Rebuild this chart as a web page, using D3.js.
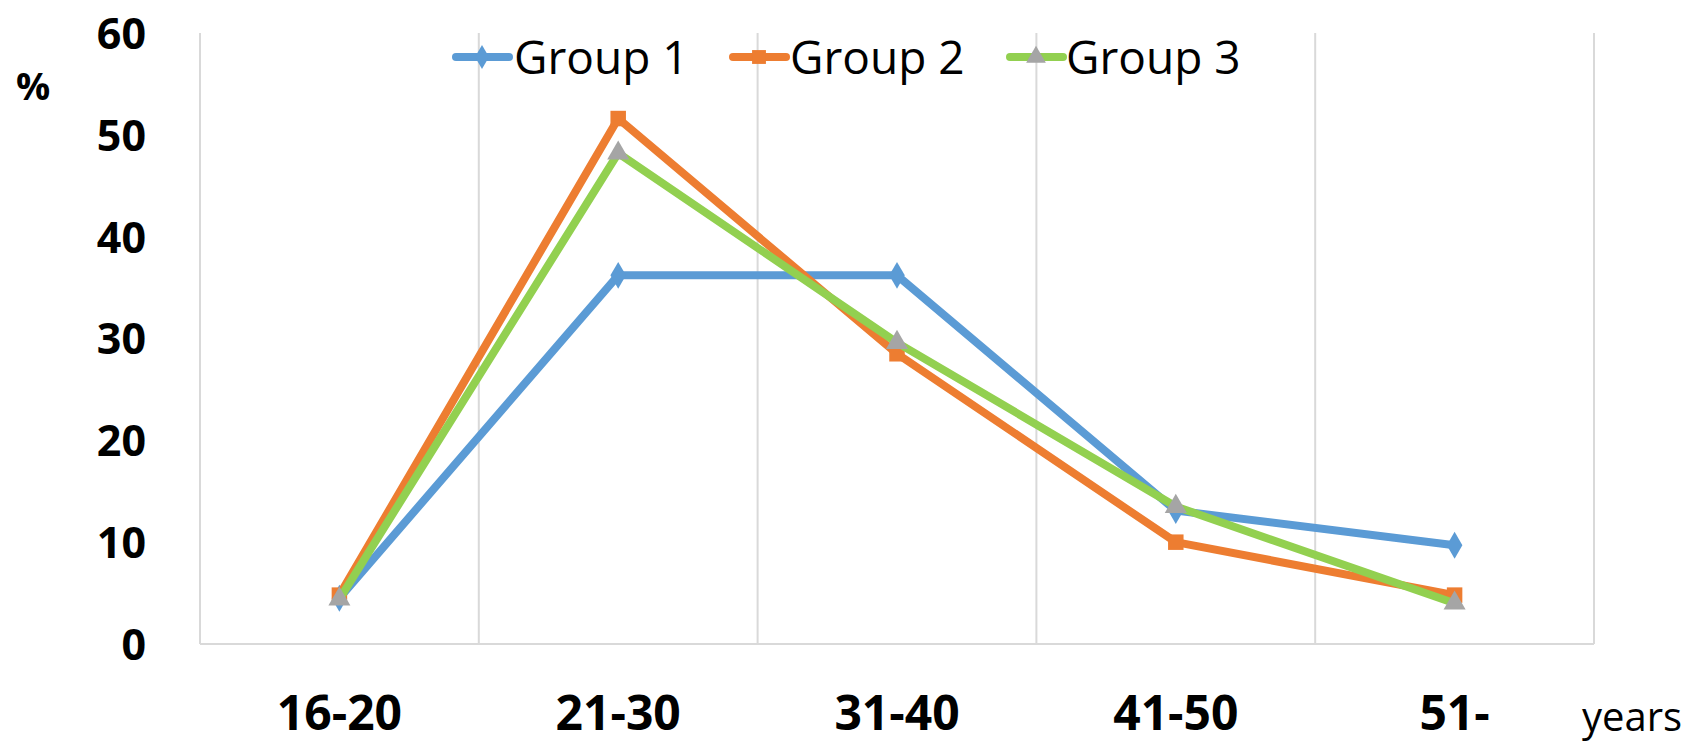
<!DOCTYPE html>
<html>
<head>
<meta charset="utf-8">
<script src="https://cdn.jsdelivr.net/npm/d3@7"></script>
<style>
  html, body { margin: 0; padding: 0; background: #ffffff; }
  svg { display: block; }
  text { font-family: "Open Sans", "Noto Sans", sans-serif; fill: #000; }
</style>
</head>
<body>
<svg id="chart" width="1688" height="744"></svg>
<script>
// Age groups on the x axis
const categories = ["16-20", "21-30", "31-40", "41-50", "51-"];

// Share of each group (%) per age band
const group1 = [4.5, 36.2, 36.2, 13.1, 9.7];
const group2 = [4.8, 51.6, 28.5, 10.0, 4.8];
const group3 = [4.4, 48.2, 29.6, 13.5, 4.0];

const seriesNames = ["Group 1", "Group 2", "Group 3"];
const yTicks = [0, 10, 20, 30, 40, 50, 60];

const series = [
  { name: seriesNames[0], values: group1, line: "#5B9BD5", marker: "#5B9BD5", shape: "diamond" },
  { name: seriesNames[1], values: group2, line: "#ED7D31", marker: "#ED7D31", shape: "square" },
  { name: seriesNames[2], values: group3, line: "#92D050", marker: "#A5A5A5", shape: "triangle" }
];

const svg = d3.select("#chart");
const plot = { left: 200, right: 1594, top: 33, bottom: 644 };

const x = d3.scaleBand().domain(categories).range([plot.left, plot.right]).padding(0);
const y = d3.scaleLinear().domain([0, 60]).range([plot.bottom, plot.top]);

// Vertical gridlines on category boundaries
const bounds = categories.map(c => x(c)).concat([x(categories[categories.length - 1]) + x.bandwidth()]);
svg.append("g").selectAll("line").data(bounds).join("line")
  .attr("x1", d => d).attr("x2", d => d)
  .attr("y1", plot.top).attr("y2", plot.bottom)
  .attr("stroke", "#D9D9D9").attr("stroke-width", 2);

// Category axis line
svg.append("line")
  .attr("x1", plot.left).attr("x2", plot.right)
  .attr("y1", plot.bottom).attr("y2", plot.bottom)
  .attr("stroke", "#D9D9D9").attr("stroke-width", 2);

// Value axis labels
const yAxis = d3.axisLeft(y).tickValues(yTicks).tickSize(0).tickPadding(0);
const yg = svg.append("g").attr("transform", "translate(146,0)").call(yAxis);
yg.select(".domain").remove();
yg.selectAll("text")
  .attr("font-family", "'Open Sans', sans-serif")
  .attr("font-size", 43).attr("font-weight", 700).attr("fill", "#000")
  .attr("dy", "0.36em");

// Category axis labels
const xAxis = d3.axisBottom(x).tickSize(0).tickPadding(0);
const xg = svg.append("g").call(xAxis);
xg.select(".domain").remove();
xg.selectAll("text")
  .attr("font-family", "'Open Sans', sans-serif")
  .attr("font-size", 48).attr("font-weight", 700).attr("fill", "#000")
  .attr("y", 730).attr("dy", 0);

// Unit labels
svg.append("text").attr("x", 33).attr("y", 100)
  .attr("text-anchor", "middle").attr("font-size", 38).attr("font-weight", 700).text("%");
svg.append("text").attr("x", 1582).attr("y", 731)
  .attr("font-size", 40).attr("font-weight", 400).text("years");

// Marker symbols
function symbolPath(shape, size) {
  const t = shape === "diamond" ? d3.symbolDiamond : shape === "square" ? d3.symbolSquare : d3.symbolTriangle;
  return d3.symbol().type(t).size(size)();
}
const markerSize = { diamond: 210, square: 240, triangle: 210 };

const line = d3.line()
  .x((d, i) => x(categories[i]) + x.bandwidth() / 2)
  .y(d => y(d));

series.forEach(s => {
  const g = svg.append("g");
  g.append("path").datum(s.values)
    .attr("d", line)
    .attr("fill", "none").attr("stroke", s.line).attr("stroke-width", 8)
    .attr("stroke-linejoin", "round").attr("stroke-linecap", "round");
  g.selectAll("path.mk").data(s.values).join("path").attr("class", "mk")
    .attr("d", symbolPath(s.shape, markerSize[s.shape]))
    .attr("transform", (d, i) => `translate(${x(categories[i]) + x.bandwidth() / 2},${y(d)})`)
    .attr("fill", s.marker);
});

// Legend
const legendItems = [
  { lx: 452, tx: 514 },
  { lx: 729, tx: 790 },
  { lx: 1006, tx: 1066 }
];
const ly = 57;
series.forEach((s, i) => {
  const p = legendItems[i];
  const g = svg.append("g");
  g.append("line").attr("x1", p.lx + 4).attr("x2", p.lx + 57)
    .attr("y1", ly).attr("y2", ly)
    .attr("stroke", s.line).attr("stroke-width", 8).attr("stroke-linecap", "round");
  g.append("path").attr("d", symbolPath(s.shape, markerSize[s.shape] * 0.8))
    .attr("transform", `translate(${p.lx + 30},${ly})`).attr("fill", s.marker);
  g.append("text").attr("x", p.tx).attr("y", ly + 17)
    .attr("font-size", 46).attr("font-weight", 400).text(s.name);
});
</script>
</body>
</html>
